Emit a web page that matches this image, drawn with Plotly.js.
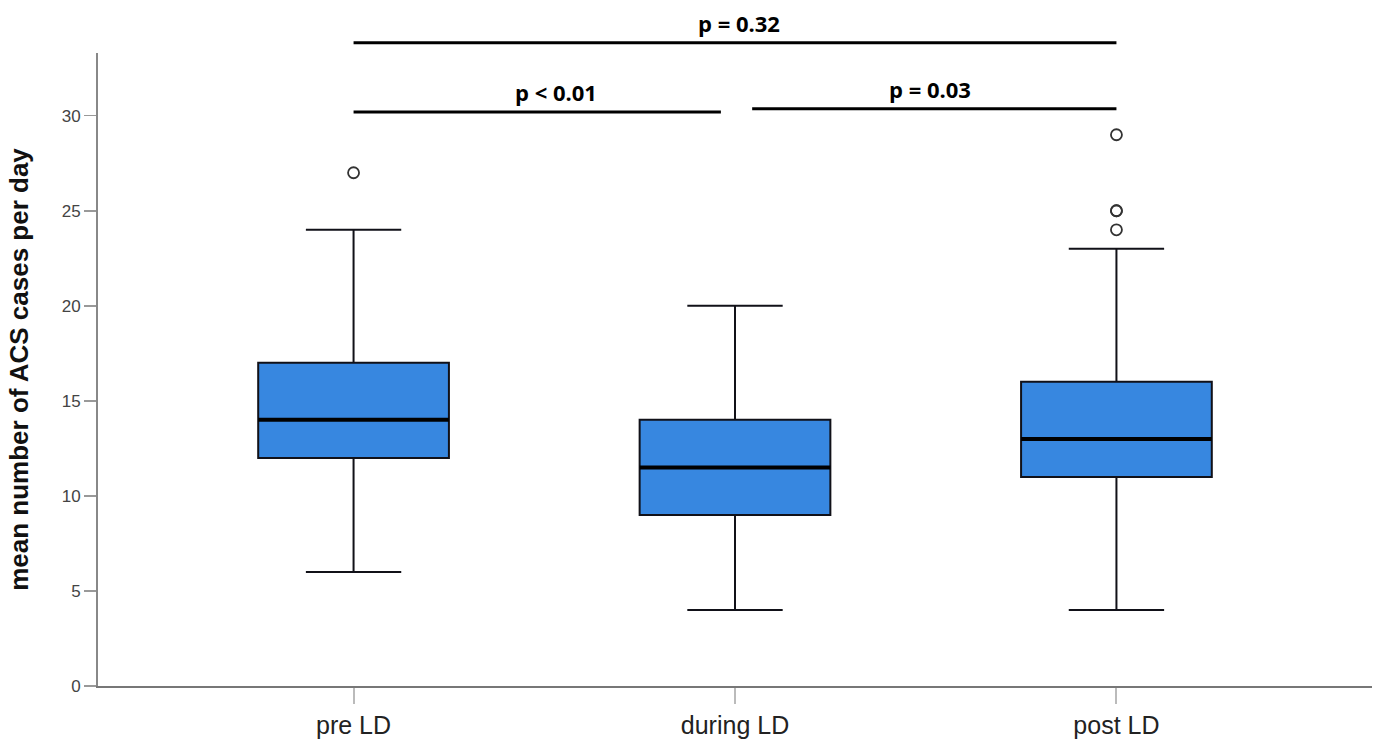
<!DOCTYPE html>
<html>
<head>
<meta charset="utf-8">
<script src="https://cdn.plot.ly/plotly-3.0.1.min.js"></script>
<style>html,body{margin:0;padding:0;background:#fff;}#chart{width:1380px;height:744px;}</style>
</head>
<body>
<div id="chart"></div>
<script>
// Categories and box statistics
const categories = ['pre LD', 'during LD', 'post LD'];
const catPos = [0, 1, 2];
const q1 = [12, 9, 11];
const median = [14, 11.5, 13];
const q3 = [17, 14, 16];
const lowerWhisker = [6, 4, 4];
const upperWhisker = [24, 20, 23];

// Outliers (category index, value)
const outlierCat = [0, 2, 2, 2, 2];
const outlierVal = [27, 29, 25, 25, 24];

// Significance brackets
const bracketFrom = [0, 0, 1.045];
const bracketTo = [2, 0.963, 2];
const bracketY = [33.84, 30.2, 30.37];
const bracketLabel = ['p = 0.32', 'p < 0.01', 'p = 0.03'];
const bracketLabelX = [1.01, 0.53, 1.51];

const yMax = 33.3;
const boxWidth = 0.5;

const traces = [{
  type: 'box',
  x: catPos,
  q1: q1,
  median: median,
  q3: q3,
  lowerfence: lowerWhisker,
  upperfence: upperWhisker,
  width: boxWidth,
  whiskerwidth: 0.5,
  fillcolor: '#3787e0',
  line: {color: '#111118', width: 2},
  boxpoints: false,
  hoverinfo: 'skip',
  showlegend: false
}, {
  type: 'scatter',
  mode: 'markers',
  x: outlierCat,
  y: outlierVal,
  marker: {symbol: 'circle-open', size: 11, color: '#333', line: {width: 1.8, color: '#333'}},
  cliponaxis: false,
  hoverinfo: 'skip',
  showlegend: false
}];

const shapes = [];
median.forEach((m, i) => {
  shapes.push({type: 'line', xref: 'x', yref: 'y',
    x0: catPos[i] - boxWidth / 2, x1: catPos[i] + boxWidth / 2, y0: m, y1: m,
    line: {color: '#000', width: 4}});
});
bracketY.forEach((yv, i) => {
  shapes.push({type: 'line', xref: 'x', yref: 'paper',
    x0: bracketFrom[i], x1: bracketTo[i], y0: yv / yMax, y1: yv / yMax,
    line: {color: '#000', width: 3}});
});

const annotations = bracketLabel.map((t, i) => ({
  text: '<b>' + t + '</b>', x: bracketLabelX[i], xref: 'x',
  y: bracketY[i] / yMax, yref: 'paper', yanchor: 'bottom', yshift: 3,
  showarrow: false, font: {family: 'Open Sans, sans-serif', size: 22, color: '#000'}
}));

const layout = {
  width: 1380, height: 744,
  margin: {l: 98, r: 8, t: 53, b: 58},
  paper_bgcolor: '#fff', plot_bgcolor: '#fff',
  font: {family: 'Liberation Sans, Arial, sans-serif'},
  xaxis: {
    range: [-0.67, 2.67],
    tickvals: catPos, ticktext: categories,
    showgrid: false, zeroline: false,
    showline: true, linecolor: '#777', linewidth: 2,
    ticks: 'outside', ticklen: 16, tickcolor: '#bbb', tickwidth: 2,
    tickfont: {size: 25, color: '#222'}
  },
  yaxis: {
    range: [0, yMax],
    tickvals: [0, 5, 10, 15, 20, 25, 30],
    showgrid: false, zeroline: false,
    showline: true, linecolor: '#888', linewidth: 2,
    ticks: 'outside', ticklen: 12, tickcolor: '#999', tickwidth: 1.5,
    tickfont: {size: 17, color: '#444'},
    title: {text: '<b>mean number of ACS cases per day</b>', font: {size: 26, color: '#111'}, standoff: 26}
  },
  shapes: shapes,
  annotations: annotations
};

Plotly.newPlot('chart', traces, layout, {staticPlot: true, displayModeBar: false});
</script>
</body>
</html>
